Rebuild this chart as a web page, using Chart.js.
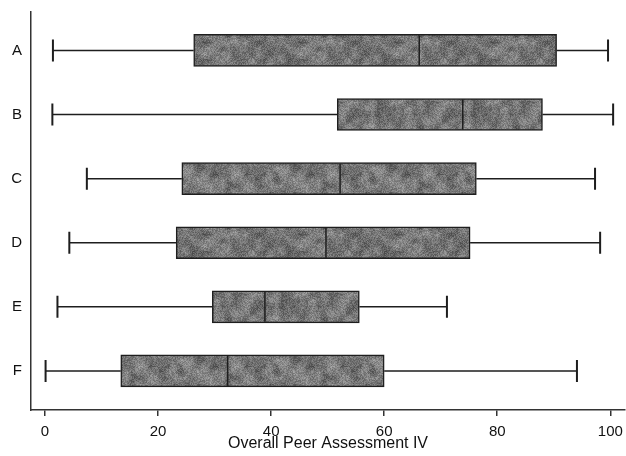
<!DOCTYPE html>
<html>
<head>
<meta charset="utf-8">
<script src="https://cdn.jsdelivr.net/npm/chart.js@4.4.1/dist/chart.umd.min.js"></script>
<style>
  html, body { margin: 0; padding: 0; background: #fff; }
  #wrap { width: 626px; height: 456px; }
</style>
</head>
<body>
<div id="wrap"><canvas id="box"></canvas></div>
<script>
// groups and their five-number summaries
const categories = ["A", "B", "C", "D", "E", "F"];
const whiskerLow = [1.4, 1.3, 7.4, 4.3, 2.2, 0.1];
const quartile1 = [26.3, 51.7, 24.2, 23.2, 29.6, 13.4];
const medians = [66.2, 73.9, 52.2, 49.7, 38.9, 32.3];
const quartile3 = [90.5, 88.0, 76.3, 75.2, 55.6, 60.0];
const whiskerHigh = [99.6, 100.5, 97.3, 98.2, 71.1, 94.1];
const xTicks = [0, 20, 40, 60, 80, 100];

const INK = "#1e1e1e";

// speckled grey fill for the boxes (fixed seed so it looks the same each load)
function grainPattern() {
  const size = 96;
  const c = document.createElement("canvas");
  c.width = c.height = size;
  const g = c.getContext("2d");
  const img = g.createImageData(size, size);
  let seed = 12345;
  const rnd = () => {
    seed = (seed * 1103515245 + 12345) & 0x7fffffff;
    return seed / 0x7fffffff;
  };
  // coarse value noise, wrapped so the tile repeats cleanly
  const cell = 6, n = size / cell;
  const grid = [];
  for (let i = 0; i < n * n; i++) grid.push(rnd());
  const at = (gx, gy) => grid[((gy + n) % n) * n + ((gx + n) % n)];
  for (let y = 0; y < size; y++) {
    for (let x = 0; x < size; x++) {
      const fx = x / cell, fy = y / cell;
      const ix = Math.floor(fx), iy = Math.floor(fy);
      const tx = fx - ix, ty = fy - iy;
      const top = at(ix, iy) * (1 - tx) + at(ix + 1, iy) * tx;
      const bot = at(ix, iy + 1) * (1 - tx) + at(ix + 1, iy + 1) * tx;
      const smooth = top * (1 - ty) + bot * ty;
      const v = Math.round(62 + smooth * 60 + rnd() * 50);
      const k = (y * size + x) * 4;
      img.data[k] = img.data[k + 1] = img.data[k + 2] = v;
      img.data[k + 3] = 255;
    }
  }
  g.putImageData(img, 0, 0);
  return g.createPattern(c, "repeat");
}

// whiskers, caps and median lines, drawn on top of the boxes
const boxExtras = {
  id: "boxExtras",
  afterDatasetsDraw(chart) {
    const { ctx, scales: { x, y } } = chart;
    ctx.save();
    ctx.strokeStyle = INK;
    categories.forEach((c, i) => {
      const cy = y.getPixelForValue(i + 1);
      const lo = x.getPixelForValue(whiskerLow[i]);
      const hi = x.getPixelForValue(whiskerHigh[i]);
      const q1 = x.getPixelForValue(quartile1[i]);
      const q3 = x.getPixelForValue(quartile3[i]);
      const md = x.getPixelForValue(medians[i]);
      ctx.lineWidth = 1.5;
      ctx.beginPath();
      ctx.moveTo(lo, cy); ctx.lineTo(q1, cy);
      ctx.moveTo(q3, cy); ctx.lineTo(hi, cy);
      ctx.stroke();
      ctx.lineWidth = 2;
      ctx.beginPath();
      ctx.moveTo(lo, cy - 11); ctx.lineTo(lo, cy + 11);
      ctx.moveTo(hi, cy - 11); ctx.lineTo(hi, cy + 11);
      ctx.stroke();
      ctx.lineWidth = 1.5;
      ctx.beginPath();
      ctx.moveTo(md, cy - 15); ctx.lineTo(md, cy + 15);
      ctx.stroke();
    });
    ctx.restore();
  }
};

Chart.defaults.font.family = "'Liberation Sans', Arial, sans-serif";
Chart.defaults.color = "#111";

new Chart(document.getElementById("box"), {
  type: "bar",
  data: {
    datasets: [{
      data: categories.map((c, i) => ({ x: [quartile1[i], quartile3[i]], y: i + 1 })),
      backgroundColor: grainPattern(),
      borderColor: INK,
      borderWidth: 1.5,
      borderSkipped: false,
      barThickness: 32
    }]
  },
  options: {
    indexAxis: "y",
    responsive: true,
    maintainAspectRatio: false,
    animation: false,
    layout: { padding: { top: 12, right: 1, bottom: 3, left: 0 } },
    plugins: { legend: { display: false }, tooltip: { enabled: false } },
    scales: {
      x: {
        type: "linear",
        min: -2.48,
        max: 102.6,
        afterBuildTicks: (s) => { s.ticks = xTicks.map((v) => ({ value: v })); },
        afterFit: (s) => {
          s.height = 43;
          // end labels fit inside the axis range already
          s.paddingLeft = 0;
          s.paddingRight = 0;
        },
        grid: { drawOnChartArea: false, drawTicks: true, tickLength: 6, color: "#333", lineWidth: 1.5 },
        border: { display: true, color: "#333", width: 1.5 },
        ticks: { padding: 7, font: { size: 15 }, maxRotation: 0 },
        title: {
          display: true,
          text: "Overall Peer Assessment IV",
          font: { size: 16 },
          padding: { top: 0, bottom: 0 }
        }
      },
      y: {
        type: "linear",
        reverse: true,
        offset: false,
        min: 0.4,
        max: 6.61,
        afterBuildTicks: (s) => { s.ticks = categories.map((c, i) => ({ value: i + 1 })); },
        afterFit: (s) => {
          s.width = 31;
          // labels sit well inside the axis, no room needed at the ends
          s.paddingTop = 0;
          s.paddingBottom = 0;
        },
        grid: { display: false, drawTicks: false, offset: false },
        border: { display: true, color: "#333", width: 1.5 },
        ticks: {
          padding: 9,
          font: { size: 15 },
          callback: (v) => categories[v - 1]
        }
      }
    }
  },
  plugins: [boxExtras]
});
</script>
</body>
</html>
